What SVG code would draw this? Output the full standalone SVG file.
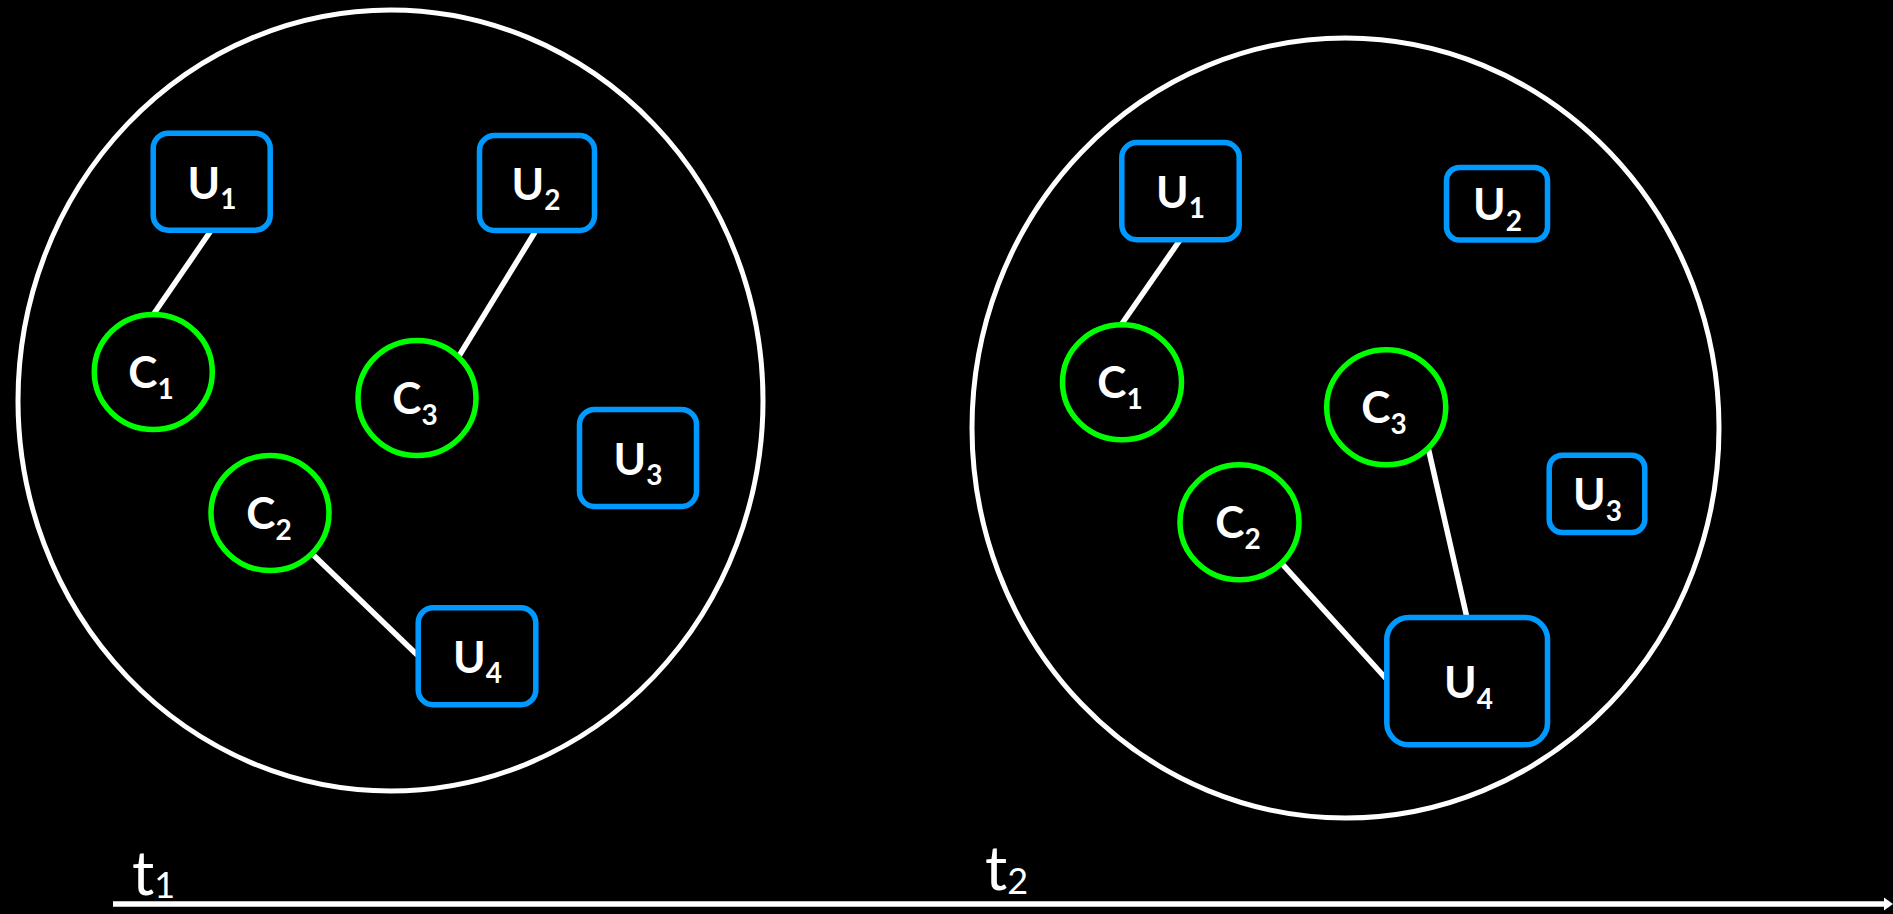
<svg xmlns="http://www.w3.org/2000/svg" width="1893" height="914" viewBox="0 0 1893 914">
<style>
.bg{fill:#000}
.big{fill:none;stroke:#fff;stroke-width:5}
.u{fill:none;stroke:#0099FF;stroke-width:5.5}
.c{fill:none;stroke:#00FF00;stroke-width:5.5}
.lnk{stroke:#fff;stroke-width:5.5;fill:none}
.lbl{font-family:Lato,"Open Sans","DejaVu Sans",sans-serif;font-weight:700;font-size:44px;fill:#fff;text-anchor:middle}
.sub{font-size:28px}
.tl{font-family:Lato,"Open Sans","DejaVu Sans",sans-serif;font-weight:400;font-size:62px;fill:#fff}
.tsub{font-size:36px}
</style>
<rect class="bg" x="0" y="0" width="1893" height="914"/>
<g id="panel-t1">
<ellipse class="big" cx="390.5" cy="400.5" rx="372.5" ry="390.5"/>
</g>
<g id="panel-t2">
<ellipse class="big" cx="1345.5" cy="428" rx="373.5" ry="390"/>
</g>
<g id="connectors">
<line class="lnk" x1="210.7" y1="231" x2="154" y2="313.5"/>
<line class="lnk" x1="535" y1="232" x2="459" y2="356"/>
<line class="lnk" x1="313.9" y1="555.4" x2="417.3" y2="655"/>
<line class="lnk" x1="1180" y1="240" x2="1121.7" y2="324"/>
<line class="lnk" x1="1428.3" y1="448.3" x2="1466.7" y2="616.7"/>
<line class="lnk" x1="1281.7" y1="563.3" x2="1387.3" y2="680"/>
</g>
<g id="t1-U1"><rect class="u" x="153.2" y="133.2" width="117" height="97" rx="15"/><text class="lbl" x="212" y="199">U<tspan class="sub" dy="10">1</tspan></text></g>
<g id="t1-U2"><rect class="u" x="479.5" y="135.5" width="115" height="95" rx="15"/><text class="lbl" x="536" y="200">U<tspan class="sub" dy="10">2</tspan></text></g>
<g id="t1-U3"><rect class="u" x="579.5" y="409.5" width="117" height="97" rx="15"/><text class="lbl" x="638" y="475">U<tspan class="sub" dy="10">3</tspan></text></g>
<g id="t1-U4"><rect class="u" x="418.2" y="607.8" width="117.6" height="97" rx="15"/><text class="lbl" x="477.5" y="673">U<tspan class="sub" dy="10">4</tspan></text></g>
<g id="t1-C1"><ellipse class="c" cx="153.3" cy="372" rx="59" ry="57.5"/><text class="lbl" x="151" y="388">C<tspan class="sub" dy="11">1</tspan></text></g>
<g id="t1-C2"><ellipse class="c" cx="270" cy="513" rx="59" ry="57.5"/><text class="lbl" x="269" y="529">C<tspan class="sub" dy="11">2</tspan></text></g>
<g id="t1-C3"><ellipse class="c" cx="417" cy="398" rx="59" ry="57.5"/><text class="lbl" x="415" y="414">C<tspan class="sub" dy="11">3</tspan></text></g>
<g id="t2-U1"><rect class="u" x="1121.8" y="142.5" width="117.4" height="97.3" rx="15"/><text class="lbl" x="1180.5" y="208">U<tspan class="sub" dy="10">1</tspan></text></g>
<g id="t2-U2"><rect class="u" x="1446.5" y="167.5" width="101" height="72.5" rx="13"/><text class="lbl" x="1497.5" y="220">U<tspan class="sub" dy="11">2</tspan></text></g>
<g id="t2-U3"><rect class="u" x="1549.2" y="455.2" width="95.6" height="77.3" rx="13"/><text class="lbl" x="1597.5" y="510">U<tspan class="sub" dy="11">3</tspan></text></g>
<g id="t2-U4"><rect class="u" x="1386.8" y="617.5" width="160.7" height="127.3" rx="22"/><text class="lbl" x="1468.5" y="698">U<tspan class="sub" dy="11">4</tspan></text></g>
<g id="t2-C1"><ellipse class="c" cx="1122" cy="382.3" rx="59.5" ry="57.5"/><text class="lbl" x="1120" y="398">C<tspan class="sub" dy="11">1</tspan></text></g>
<g id="t2-C2"><ellipse class="c" cx="1239.5" cy="522.3" rx="59.5" ry="57.5"/><text class="lbl" x="1238" y="538">C<tspan class="sub" dy="11">2</tspan></text></g>
<g id="t2-C3"><ellipse class="c" cx="1386.2" cy="407.3" rx="59.5" ry="57.5"/><text class="lbl" x="1384" y="423">C<tspan class="sub" dy="11">3</tspan></text></g>
<g id="timeline">
<line class="lnk" x1="113" y1="904" x2="1886" y2="904"/>
<polygon points="1884,897.5 1893,904 1884,910.5" fill="#fff"/>
<text class="tl" x="132" y="895">t<tspan class="tsub" dy="3">1</tspan></text>
<text class="tl" x="985" y="890">t<tspan class="tsub" dy="4">2</tspan></text>
</g>
</svg>
